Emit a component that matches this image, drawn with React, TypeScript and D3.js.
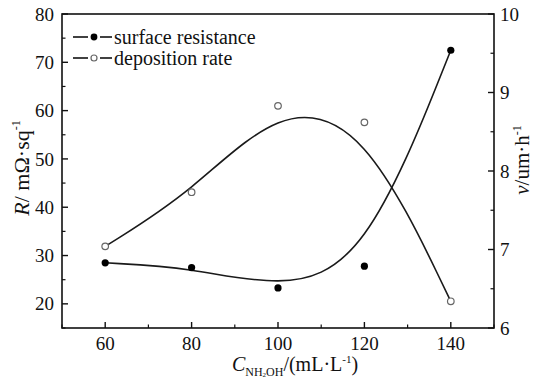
import React from "react";
import * as d3 from "d3";

const concentrations = [60, 80, 100, 120, 140];
const surfaceResistance = [28.5, 27.5, 23.3, 27.8, 72.5];
const depositionRate = [7.04, 7.73, 8.83, 8.62, 6.34];
const xTicks = [60, 80, 100, 120, 140];
const leftTicks = [20, 30, 40, 50, 60, 70, 80];
const rightTicks = [6, 7, 8, 9, 10];
const legendLabels = ["surface resistance", "deposition rate"];

const W = 533;
const H = 377;
const M = { left: 62, right: 494, top: 14, bottom: 328 };
const FONT = "'Liberation Serif', 'Times New Roman', serif";

export default function App() {
  const x = d3.scaleLinear().domain([50, 150]).range([M.left, M.right]);
  const yL = d3.scaleLinear().domain([15, 80]).range([M.bottom, M.top]);
  const yR = d3.scaleLinear().domain([6, 10]).range([M.bottom, M.top]);

  const lineL = d3
    .line<number>()
    .x((_, i) => x(concentrations[i]))
    .y((d) => yL(d))
    .curve(d3.curveBasis);
  const lineR = d3
    .line<number>()
    .x((_, i) => x(concentrations[i]))
    .y((d) => yR(d))
    .curve(d3.curveBasis);

  const xMinor = d3.range(50, 151, 10).filter((v) => !xTicks.includes(v));
  const leftMinor = d3.range(15, 80, 5).filter((v) => v % 10 !== 0);
  const rightMinor = d3.range(6.5, 10, 1);

  const stroke = "#111";
  const legendY = [37, 58];

  return (
    <svg
      width={W}
      height={H}
      style={{ position: "absolute", left: 0, top: 0, background: "#fff" }}
      fontFamily={FONT}
    >
      {/* frame */}
      <rect
        x={M.left}
        y={M.top}
        width={M.right - M.left}
        height={M.bottom - M.top}
        fill="none"
        stroke={stroke}
        strokeWidth={1.6}
      />
      {/* x ticks */}
      {xTicks.map((t) => (
        <g key={"xt" + t}>
          <line x1={x(t)} x2={x(t)} y1={M.bottom} y2={M.bottom - 6} stroke={stroke} strokeWidth={1.4} />
          <text x={x(t)} y={350} fontSize={19} textAnchor="middle" fill="#111">
            {t}
          </text>
        </g>
      ))}
      {xMinor.map((t) => (
        <line key={"xm" + t} x1={x(t)} x2={x(t)} y1={M.bottom} y2={M.bottom - 3.5} stroke={stroke} strokeWidth={1.2} />
      ))}
      {/* left ticks */}
      {leftTicks.map((t) => (
        <g key={"lt" + t}>
          <line x1={M.left} x2={M.left + 6} y1={yL(t)} y2={yL(t)} stroke={stroke} strokeWidth={1.4} />
          <text x={54} y={yL(t)} dy="0.35em" fontSize={19} textAnchor="end" fill="#111">
            {t}
          </text>
        </g>
      ))}
      {leftMinor.map((t) => (
        <line key={"lm" + t} x1={M.left} x2={M.left + 3.5} y1={yL(t)} y2={yL(t)} stroke={stroke} strokeWidth={1.2} />
      ))}
      {/* right ticks */}
      {rightTicks.map((t) => (
        <g key={"rt" + t}>
          <line x1={M.right} x2={M.right - 6} y1={yR(t)} y2={yR(t)} stroke={stroke} strokeWidth={1.4} />
          <text x={500} y={yR(t)} dy="0.35em" fontSize={19} textAnchor="start" fill="#111">
            {t}
          </text>
        </g>
      ))}
      {rightMinor.map((t) => (
        <line key={"rm" + t} x1={M.right} x2={M.right - 3.5} y1={yR(t)} y2={yR(t)} stroke={stroke} strokeWidth={1.2} />
      ))}

      {/* curves */}
      <path d={lineL(surfaceResistance) || ""} fill="none" stroke="#1a1a1a" strokeWidth={1.6} />
      <path d={lineR(depositionRate) || ""} fill="none" stroke="#1a1a1a" strokeWidth={1.6} />

      {/* points */}
      {surfaceResistance.map((v, i) => (
        <circle key={"sp" + i} cx={x(concentrations[i])} cy={yL(v)} r={3.6} fill="#000" />
      ))}
      {depositionRate.map((v, i) => (
        <circle key={"dp" + i} cx={x(concentrations[i])} cy={yR(v)} r={3.3} fill="#fff" stroke="#666" strokeWidth={1.2} />
      ))}

      {/* legend */}
      {legendLabels.map((label, i) => (
        <g key={"lg" + i}>
          <line x1={73} x2={88} y1={legendY[i]} y2={legendY[i]} stroke={stroke} strokeWidth={1.6} />
          <line x1={100} x2={112} y1={legendY[i]} y2={legendY[i]} stroke={stroke} strokeWidth={1.6} />
          {i === 0 ? (
            <circle cx={94} cy={legendY[i]} r={3.4} fill="#000" />
          ) : (
            <circle cx={94} cy={legendY[i]} r={3} fill="#fff" stroke="#666" strokeWidth={1.2} />
          )}
          <text x={114} y={legendY[i]} dy="0.33em" fontSize={20} fill="#111">
            {label}
          </text>
        </g>
      ))}

      {/* left axis title */}
      <text transform={`translate(29,168) rotate(-90)`} textAnchor="middle" fontSize={22} fill="#111">
        <tspan fontStyle="italic">R</tspan>
        <tspan>/ mΩ·sq</tspan>
        <tspan fontSize={12} dy={-9}>-1</tspan>
      </text>

      {/* right axis title */}
      <text transform={`translate(529,160) rotate(-90)`} textAnchor="middle" fontSize={21} fill="#111">
        <tspan fontStyle="italic">v</tspan>
        <tspan>/um·h</tspan>
        <tspan fontSize={12} dy={-8}>-1</tspan>
      </text>

      {/* bottom axis title */}
      <text x={295} y={371} textAnchor="middle" fontSize={20} fill="#111">
        <tspan fontStyle="italic">C</tspan>
        <tspan fontSize={12} dy={5}>NH</tspan>
        <tspan fontSize={7} dy={1}>2</tspan>
        <tspan fontSize={12} dy={-1}>OH</tspan>
        <tspan dy={-5}>/(mL·L</tspan>
        <tspan fontSize={11} dy={-8}>-1</tspan>
        <tspan dy={8}>)</tspan>
      </text>
    </svg>
  );
}
